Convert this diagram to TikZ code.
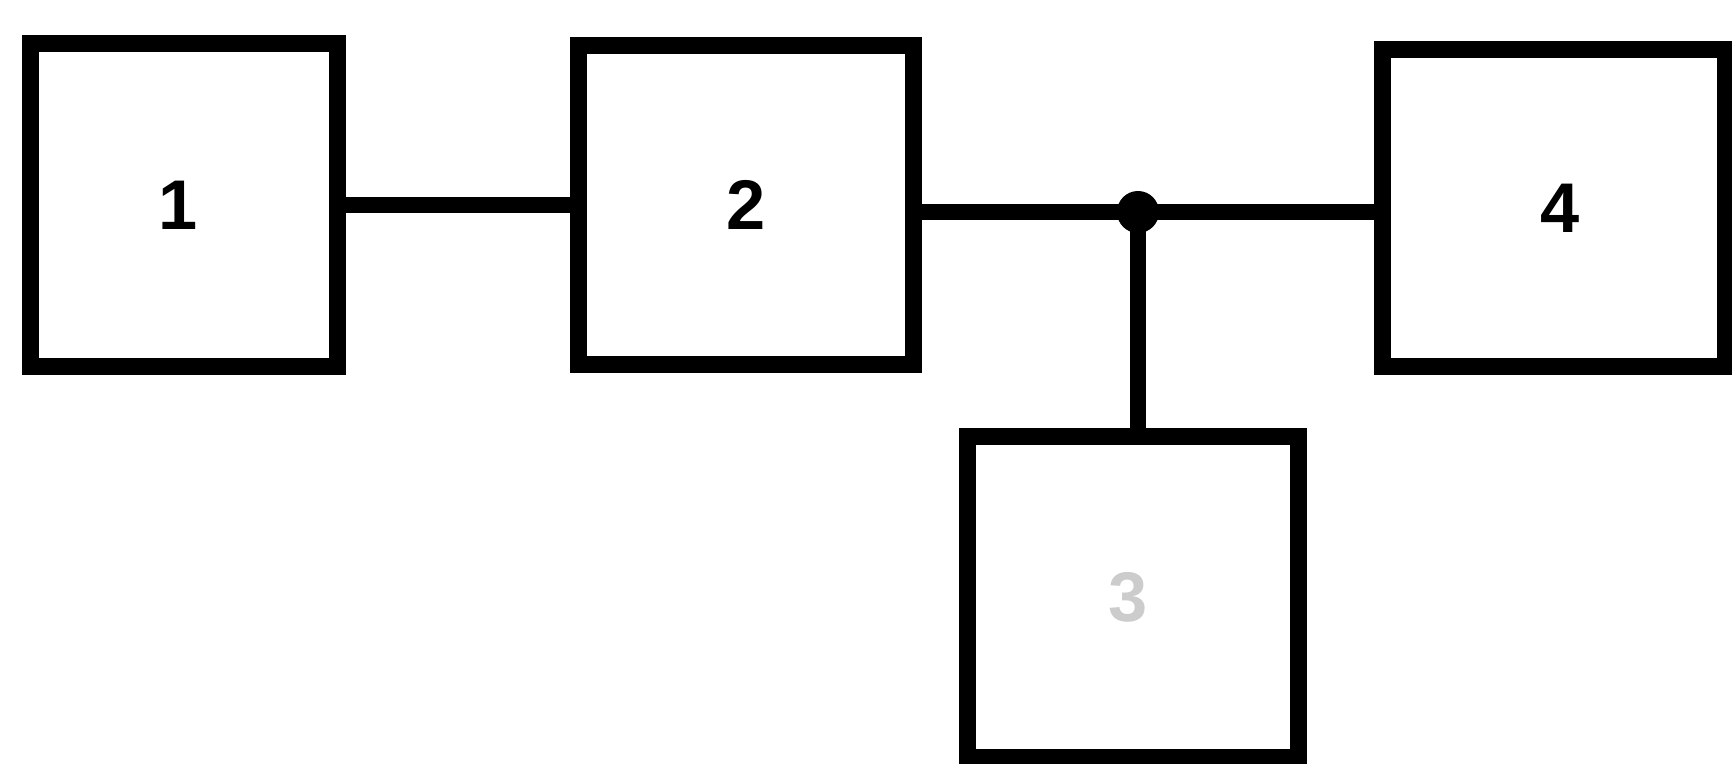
\documentclass[tikz,border=0pt]{standalone}
\usepackage{fontspec}
\setmainfont{Liberation Sans}
\begin{document}
\begin{tikzpicture}[x=0.01cm,y=-0.01cm,
  blk/.style={draw=black,line width=4.8pt,inner sep=0pt,font=\fontsize{20}{24}\selectfont\bfseries},
  conn/.style={draw=black,line width=4.6pt}]
\useasboundingbox (0,0) rectangle (1732,763);
\node[blk,minimum width=3.06cm,minimum height=3.22cm] (b1) at (184,205) {\hspace*{-0.12cm}1};
\node[blk,minimum width=3.35cm,minimum height=3.18cm] (b2) at (746,205) {2};
\node[blk,minimum width=3.42cm,minimum height=3.16cm] (b4) at (1554,208) {\hspace*{0.12cm}\raisebox{-0.05cm}{4}};
\node[blk,minimum width=3.30cm,minimum height=3.20cm,text=black!20] (b3) at (1133,597) {\hspace*{-0.1cm}3};
\coordinate (j) at (1138,212);
\draw[conn] (b1.east) -- (b2.west);
\draw[conn] (b2.east |- j) -- (j) -- (b4.west |- j);
\draw[conn] (j) -- (j |- b3.north);
\fill (j) circle (0.21cm);
\end{tikzpicture}
\end{document}
